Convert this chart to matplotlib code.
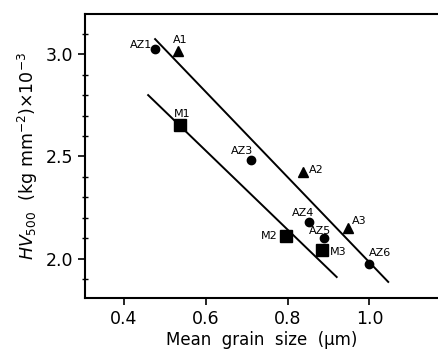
import matplotlib
matplotlib.use('Agg')
import matplotlib.pyplot as plt
from matplotlib.ticker import MultipleLocator

plt.rcParams['font.family'] = ['DejaVu Sans']
plt.rcParams['mathtext.fontset'] = 'dejavusans'

# alloy samples (circle = AZ, triangle = A, square = M)
az_x = [0.476, 0.711, 0.852, 0.890, 0.998]
az_y = [3.026, 2.482, 2.181, 2.101, 1.972]
az_lab = ['AZ1', 'AZ3', 'AZ4', 'AZ5', 'AZ6']

a_x = [0.533, 0.837, 0.947]
a_y = [3.018, 2.425, 2.152]
a_lab = ['A1', 'A2', 'A3']

m_x = [0.537, 0.795, 0.884]
m_y = [2.652, 2.113, 2.041]
m_lab = ['M1', 'M2', 'M3']

# fitted lines (end points)
upper_x = [0.476, 1.046]
upper_y = [3.074, 1.886]
lower_x = [0.459, 0.920]
lower_y = [2.800, 1.910]

# label offsets in points
az_off = [(-10, 3), (-6.5, 6.5), (-4, 6), (-3, 5), (8.5, 8)]
a_off = [(1.5, 7.5), (10, 1.5), (8.5, 4.5)]
m_off = [(1.5, 8.5), (-12, 0), (11.5, -1.5)]

fig = plt.figure(figsize=(4.39, 3.54), dpi=100)
ax = fig.add_axes([0.194, 0.158, 0.804, 0.802])

ax.plot(upper_x, upper_y, 'k-', lw=1.4)
ax.plot(lower_x, lower_y, 'k-', lw=1.4)
ax.plot(az_x, az_y, 'ko', ms=6)
ax.plot(a_x, a_y, 'k^', ms=7)
ax.plot(m_x, m_y, 'ks', ms=8)

for xs, ys, labs, offs in [(az_x, az_y, az_lab, az_off),
                           (a_x, a_y, a_lab, a_off),
                           (m_x, m_y, m_lab, m_off)]:
    for x, y, t, o in zip(xs, ys, labs, offs):
        ax.annotate(t, (x, y), xytext=o, textcoords='offset points',
                    ha='center', va='center', fontsize=8)

ax.set_xlim(0.305, 1.168)
ax.set_ylim(1.807, 3.196)
ax.set_xticks([0.4, 0.6, 0.8, 1.0])
ax.set_yticks([2.0, 2.5, 3.0])
ax.yaxis.set_minor_locator(MultipleLocator(0.1))
ax.xaxis.set_minor_locator(MultipleLocator(1.0))
ax.tick_params(which='major', direction='out', length=5, width=1.2, labelsize=12.5)
ax.tick_params(which='minor', direction='inout', length=4, width=1)
for s in ['left', 'bottom', 'top']:
    ax.spines[s].set_linewidth(1.5)
ax.spines['right'].set_visible(False)

ax.set_xlabel('Mean  grain  size  (\u03bcm)', fontsize=12, labelpad=2)
ax.set_ylabel(r'$HV_{500}$  (kg mm$^{-2}$)$\times$10$^{-3}$', fontsize=12.5, labelpad=4)

fig.savefig('out.png', dpi=100)
